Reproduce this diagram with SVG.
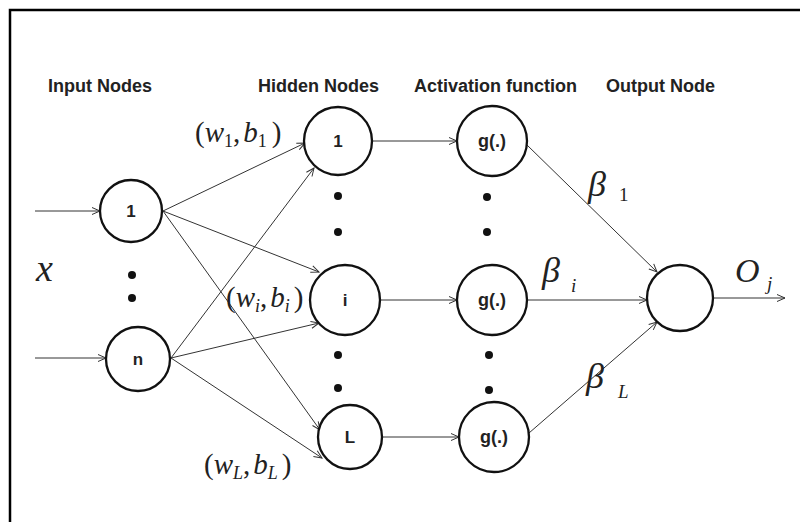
<svg xmlns="http://www.w3.org/2000/svg" width="800" height="522" viewBox="0 0 800 522">
<defs>
<marker id="ah" markerWidth="10" markerHeight="10" refX="9" refY="5" orient="auto" markerUnits="userSpaceOnUse">
<path d="M1,1.5 L9,5 L1,8.5" fill="none" stroke="#333" stroke-width="1"/>
</marker>
<style>
.title{font-family:"Liberation Sans",Arial,sans-serif;font-weight:bold;font-size:18px;fill:#222}
.node circle{fill:#fff;stroke:#111;stroke-width:2.3}
.lbl{font-family:"Liberation Sans",Arial,sans-serif;font-weight:bold;font-size:17px;fill:#222;text-anchor:middle}
.dot{fill:#111}
.edge line{stroke:#333;stroke-width:1;marker-end:url(#ah)}
.math{font-family:"Liberation Serif","Times New Roman",serif;font-size:29px;fill:#222}
.it{font-style:italic}
.sub{font-size:18px}
</style>
</defs>
<rect x="0" y="0" width="800" height="522" fill="#fff"/>
<path d="M10,522 V10 H800" fill="none" stroke="#000" stroke-width="2.5"/>

<g id="titles">
<text class="title" x="48" y="92">Input Nodes</text>
<text class="title" x="258" y="92">Hidden Nodes</text>
<text class="title" x="414" y="92">Activation function</text>
<text class="title" x="606" y="92">Output Node</text>
</g>

<g id="connectors" class="edge">
<line x1="35" y1="211" x2="100" y2="211"/>
<line x1="35" y1="358" x2="106" y2="358"/>
<line x1="163" y1="211" x2="305" y2="143"/>
<line x1="163" y1="211" x2="319" y2="272"/>
<line x1="163" y1="211" x2="320" y2="430"/>
<line x1="171" y1="358" x2="314" y2="168"/>
<line x1="171" y1="358" x2="319" y2="323"/>
<line x1="171" y1="358" x2="322" y2="458"/>
<line x1="372" y1="141" x2="457" y2="141"/>
<line x1="380" y1="300" x2="457" y2="300"/>
<line x1="382" y1="437" x2="459" y2="437"/>
<line x1="527" y1="145" x2="657" y2="272"/>
<line x1="528" y1="300" x2="647" y2="300"/>
<line x1="529" y1="433" x2="657" y2="322"/>
<line x1="713" y1="298" x2="785" y2="298"/>
</g>

<g id="in1" class="node"><circle cx="131" cy="211" r="31"/><text class="lbl" x="131" y="217">1</text></g>
<g id="inn" class="node"><circle cx="138" cy="359" r="32"/><text class="lbl" x="138" y="365">n</text></g>
<g id="h1" class="node"><circle cx="338" cy="141" r="34"/><text class="lbl" x="338" y="147">1</text></g>
<g id="hi" class="node"><circle cx="345" cy="300" r="35"/><text class="lbl" x="345" y="306" font-weight="normal">i</text></g>
<g id="hL" class="node"><circle cx="350" cy="437" r="32"/><text class="lbl" x="350" y="443">L</text></g>
<g id="g1" class="node"><circle cx="492" cy="141" r="35"/><text class="lbl" x="492" y="147" style="font-size:18px">g(.)</text></g>
<g id="gi" class="node"><circle cx="492" cy="300" r="35"/><text class="lbl" x="492" y="306" style="font-size:18px">g(.)</text></g>
<g id="gL" class="node"><circle cx="494" cy="437" r="35"/><text class="lbl" x="494" y="443" style="font-size:18px">g(.)</text></g>
<g id="out" class="node"><circle cx="680" cy="298" r="33"/></g>

<g id="dots">
<circle class="dot" cx="132" cy="275" r="4"/>
<circle class="dot" cx="132" cy="298" r="4"/>
<circle class="dot" cx="338" cy="196" r="4"/>
<circle class="dot" cx="338" cy="232" r="4"/>
<circle class="dot" cx="338" cy="355" r="4"/>
<circle class="dot" cx="338" cy="388" r="4"/>
<circle class="dot" cx="487" cy="197" r="4"/>
<circle class="dot" cx="487" cy="232" r="4"/>
<circle class="dot" cx="489" cy="355" r="4"/>
<circle class="dot" cx="489" cy="390" r="4"/>
</g>

<g id="labels">
<text class="math it" x="36" y="281" style="font-size:38px">x</text>
<text class="math" x="195" y="142">(<tspan class="it">w</tspan><tspan class="sub" dy="5">1</tspan><tspan dy="-5">,</tspan><tspan class="it" dx="3">b</tspan><tspan class="sub" dy="5">1</tspan><tspan dy="-5" dx="5">)</tspan></text>
<text class="math" x="226" y="307">(<tspan class="it">w</tspan><tspan class="sub it" dy="5">i</tspan><tspan dy="-5">,</tspan><tspan class="it" dx="3">b</tspan><tspan class="sub it" dy="5">i</tspan><tspan dy="-5" dx="4">)</tspan></text>
<text class="math" x="204" y="474">(<tspan class="it">w</tspan><tspan class="sub it" dy="5">L</tspan><tspan dy="-5">,</tspan><tspan class="it" dx="3">b</tspan><tspan class="sub it" dy="5">L</tspan><tspan dy="-5" dx="4">)</tspan></text>
<text class="math it" x="588" y="196" style="font-size:36px">β</text>
<text class="math" x="619" y="201" style="font-size:19px">1</text>
<text class="math it" x="542" y="282" style="font-size:36px">β</text>
<text class="math it" x="571" y="292" style="font-size:19px">i</text>
<text class="math it" x="586" y="388" style="font-size:36px">β</text>
<text class="math it" x="618" y="398" style="font-size:19px">L</text>
<text class="math it" x="735" y="282" style="font-size:34px">O</text>
<text class="math it" x="767" y="290" style="font-size:19px">j</text>
</g>
</svg>
